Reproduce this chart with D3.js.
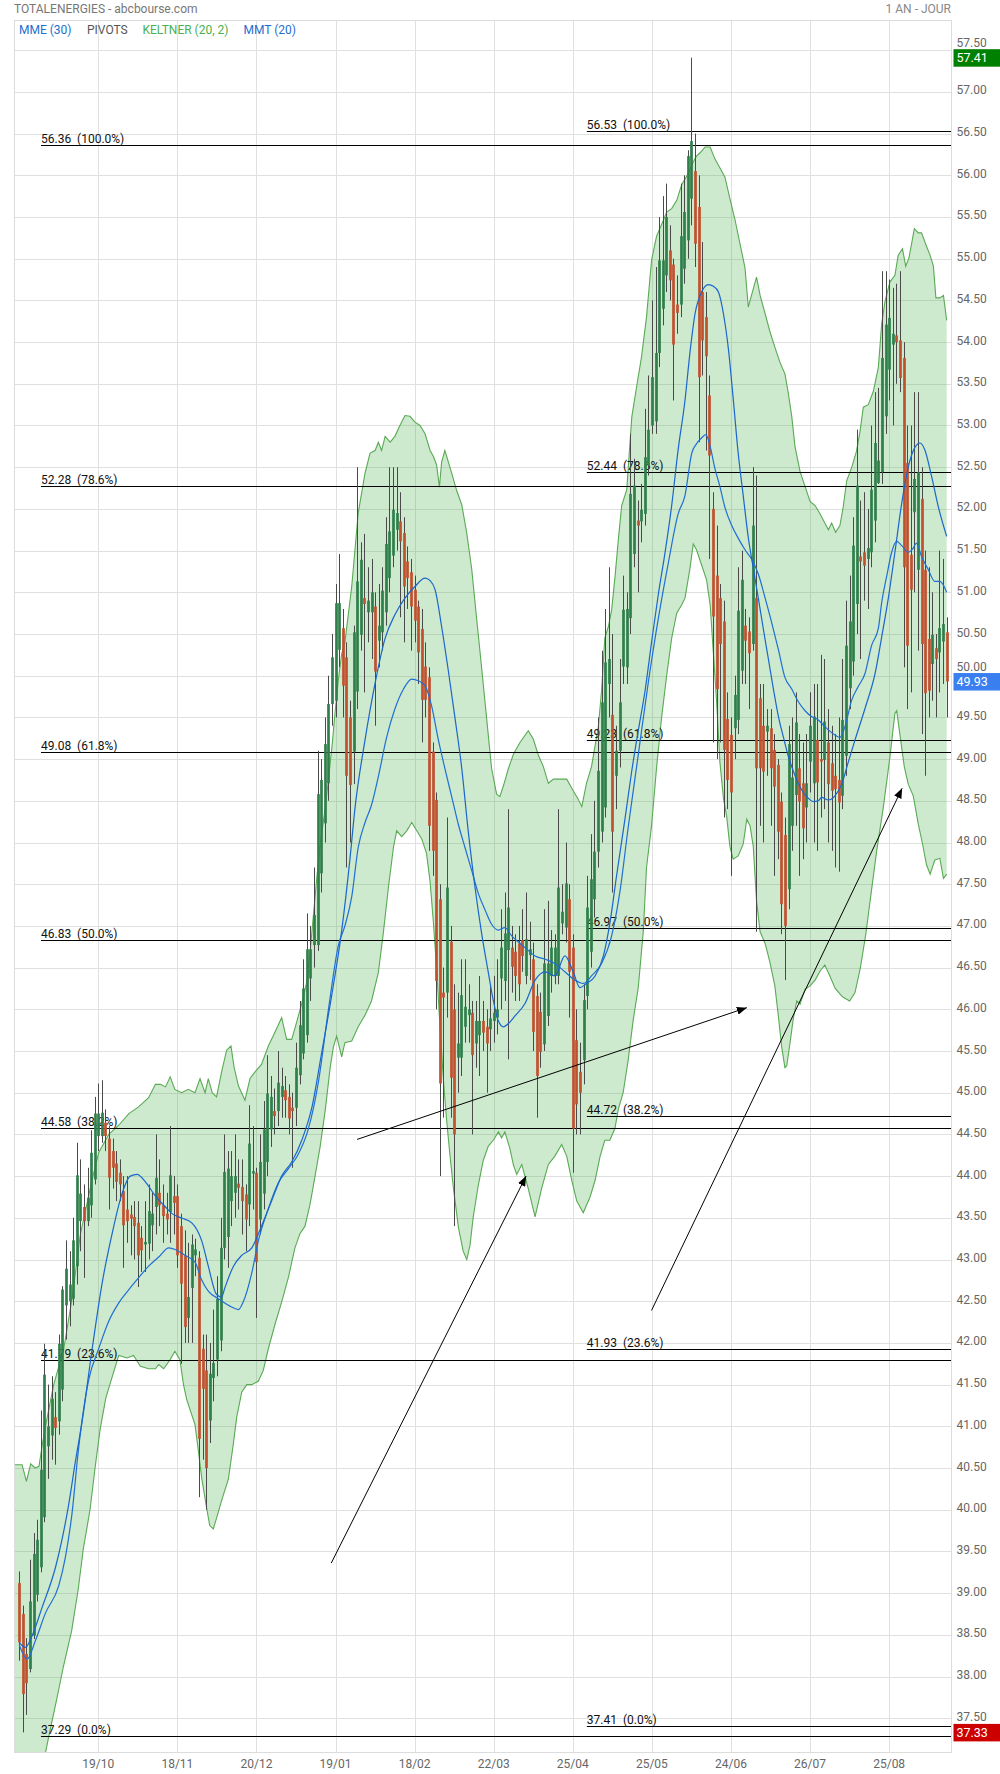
<!DOCTYPE html>
<html><head><meta charset="utf-8">
<script src="https://cdn.jsdelivr.net/npm/d3@7/dist/d3.min.js"></script>
<style>
html,body{margin:0;padding:0;background:#fff;}
svg text{font-family:Roboto,"Noto Sans",Arial,sans-serif;}
</style></head>
<body>
<svg id="chart" width="1000" height="1774"></svg>
<script>
// ---------------- DATA ----------------
const xTickIndex = [22,44,66,88,110,132,154,176,198,220,242];
const xTickLabels = ["19/10","18/11","20/12","19/01","18/02","22/03","25/04","25/05","24/06","26/07","25/08"];
const yTickValues = [37.5,38,38.5,39,39.5,40,40.5,41,41.5,42,42.5,43,43.5,44,44.5,45,45.5,46,46.5,47,47.5,48,48.5,49,49.5,50,50.5,51,51.5,52,52.5,53,53.5,54,54.5,55,55.5,56,56.5,57,57.5];

const open = [
39.12,38.75,38.27,38.09,38.49,38.98,39.31,39.91,40.76,40.89,
41.11,41.06,41.44,42.45,42.50,42.53,42.92,43.46,43.63,43.46,
43.65,43.96,44.48,44.48,44.64,44.45,44.30,44.15,44.04,43.82,
43.60,43.54,43.51,43.44,43.26,43.18,43.19,43.41,43.63,43.80,
43.65,43.55,43.57,43.76,43.76,43.40,43.05,42.30,42.66,43.05,
43.02,41.93,41.67,41.07,41.58,41.80,42.03,43.14,43.27,43.70,
43.80,43.91,43.87,43.78,43.66,44.03,44.04,43.48,43.79,44.17,
44.56,44.78,44.78,44.95,45.03,44.95,44.82,44.82,45.21,45.47,
45.69,46.37,46.77,46.77,47.63,48.23,48.71,49.66,49.70,50.31,
50.57,50.22,49.50,49.09,49.81,50.49,50.93,50.76,50.76,50.83,
50.42,50.52,50.76,51.17,51.44,51.75,51.85,51.71,51.37,51.24,
51.03,50.83,50.56,50.11,49.98,49.09,48.51,47.32,46.20,46.20,
46.81,46.00,45.42,45.42,45.79,45.93,45.96,45.59,45.69,45.86,
45.79,45.76,45.86,45.90,46.37,46.34,46.71,46.74,46.69,46.79,
46.83,46.40,46.65,46.60,46.16,45.97,45.58,45.92,46.40,46.40,
46.40,47.03,46.98,47.32,46.74,45.63,45.25,45.39,46.16,46.69,
47.32,47.89,48.13,48.42,49.90,49.53,48.80,49.10,50.11,50.10,
50.69,51.46,51.86,51.85,51.94,52.52,53.00,53.05,53.87,54.40,
54.80,55.10,54.93,54.45,54.45,54.88,55.22,55.72,56.05,55.62,
54.60,54.30,53.36,52.00,51.20,50.93,50.65,49.48,49.29,49.37,
49.47,50.06,50.60,50.53,50.38,50.93,49.73,49.40,49.33,49.37,
49.11,48.93,48.49,48.09,47.44,48.20,48.57,48.89,48.71,48.42,
48.97,48.71,49.23,49.00,48.99,49.20,48.95,48.80,48.75,48.56,
49.04,49.85,50.17,50.86,51.43,51.48,51.40,51.48,51.86,52.31,
52.44,53.11,53.67,53.97,54.08,54.02,53.81,52.55,51.45,51.96,
51.27,52.12,51.27,50.44,50.14,50.33,50.28,50.41,50.52];

const high = [
39.26,38.85,38.46,39.40,39.72,39.88,41.19,41.99,41.50,41.60,
41.41,42.10,42.68,43.23,43.10,43.50,44.40,44.20,43.90,44.10,
44.55,44.95,45.11,45.15,44.80,44.60,44.45,44.30,44.20,44.00,
44.00,43.65,43.70,43.70,43.40,43.70,43.90,43.80,44.50,44.20,
43.90,43.80,44.60,44.00,43.90,43.55,43.35,43.20,43.30,43.25,
43.10,42.10,42.10,42.00,42.40,42.80,43.50,44.50,44.30,44.30,
44.50,44.20,44.20,43.90,44.85,44.60,44.10,44.50,44.90,45.45,
45.20,45.05,45.50,45.30,45.20,45.10,45.00,45.60,46.10,46.60,
47.15,47.00,47.70,49.10,49.00,49.50,50.00,50.50,51.10,51.46,
50.80,50.40,49.70,50.60,52.50,51.60,51.70,51.30,51.40,51.00,
51.10,51.30,51.90,52.50,52.50,52.50,52.20,51.90,51.55,51.40,
51.20,50.90,50.80,50.40,50.10,49.20,48.60,47.50,46.50,48.30,
47.00,46.30,46.20,46.60,46.60,46.30,46.10,46.10,46.40,46.10,
46.00,46.30,46.40,46.60,47.20,47.40,48.40,47.00,46.90,47.00,
47.20,47.40,47.05,46.80,46.30,46.20,47.20,47.30,46.95,46.90,
48.40,47.50,48.00,47.50,46.90,46.00,45.60,46.30,47.60,48.10,
48.50,49.50,50.30,50.80,51.30,50.50,49.40,50.20,51.20,51.00,
52.90,52.60,52.10,52.30,53.20,53.60,54.50,54.90,55.50,55.75,
55.90,55.40,55.00,54.80,55.90,56.00,56.30,57.41,56.50,56.00,
55.20,54.60,53.60,52.20,51.80,51.10,50.90,49.80,49.50,50.00,
51.30,51.50,50.80,50.70,52.50,52.40,49.90,49.90,49.60,49.60,
49.30,49.00,48.60,48.30,49.40,49.50,49.80,49.30,49.20,49.30,
49.80,49.90,49.90,50.25,50.20,49.60,49.40,49.30,49.50,50.20,
50.90,51.20,51.90,52.95,52.10,52.20,52.00,53.00,53.40,53.45,
54.85,54.85,54.75,54.65,54.70,54.85,54.00,53.00,53.00,53.40,
53.40,52.50,51.50,51.30,51.00,50.50,51.50,51.40,50.70];

const low = [
38.19,37.33,37.54,38.05,38.45,38.90,39.25,39.85,40.37,40.60,
40.54,40.90,41.30,42.04,42.20,42.45,42.70,43.10,42.78,43.40,
43.50,43.90,44.30,44.40,44.30,43.60,43.85,43.70,43.70,42.90,
43.20,43.05,43.00,42.67,42.85,42.85,43.00,43.10,43.30,43.40,
43.20,43.30,43.20,43.30,42.90,41.75,42.00,42.00,42.00,42.80,
40.15,40.60,40.00,40.80,41.30,41.60,41.90,43.00,42.90,43.40,
43.50,43.60,43.30,43.10,43.40,43.60,42.30,43.30,43.60,44.00,
44.35,44.50,44.60,44.70,44.70,44.50,44.10,44.60,45.10,45.40,
45.60,46.10,46.50,46.70,47.40,48.00,48.50,49.40,49.50,50.10,
49.50,47.70,48.00,48.70,49.60,50.30,49.80,50.40,50.20,49.40,
50.10,50.30,50.60,51.00,51.30,51.50,50.70,50.40,50.80,50.30,
50.40,49.90,49.20,49.50,47.90,47.60,46.00,44.00,44.70,45.90,
44.70,43.40,45.00,45.20,45.60,45.60,44.50,45.30,45.20,45.50,
45.00,45.50,45.60,45.70,46.00,46.10,45.40,46.20,46.10,46.10,
46.45,46.30,46.35,45.50,44.70,45.30,45.50,45.80,46.20,46.30,
46.30,46.90,46.80,45.90,44.04,44.50,44.50,45.10,46.00,46.50,
47.10,47.70,48.00,48.30,49.50,47.40,48.40,48.90,49.90,49.90,
50.50,51.30,51.00,51.60,51.80,52.40,52.90,52.90,53.70,54.20,
54.60,54.50,53.30,54.10,54.30,54.70,55.00,55.40,54.90,52.80,
53.60,52.70,51.40,49.20,49.00,49.20,48.30,48.40,47.60,49.00,
49.30,49.90,49.90,49.60,50.30,46.93,48.20,48.00,48.80,48.20,
47.60,47.80,46.90,46.35,47.20,47.90,48.20,47.60,47.80,48.00,
48.60,48.00,47.90,48.30,48.40,48.00,47.90,47.70,47.65,48.40,
48.80,49.60,50.00,50.50,50.20,50.90,50.80,51.30,51.60,52.30,
52.30,52.90,53.30,53.00,53.50,53.40,50.10,49.60,49.80,51.00,
50.30,49.30,48.80,49.50,49.70,49.50,49.80,49.90,49.50];

const close = [
38.41,37.79,37.92,38.90,39.47,39.64,40.48,41.62,41.00,41.33,
40.98,41.99,42.64,42.89,42.70,43.23,44.01,43.79,43.46,43.74,
44.28,44.75,44.75,44.76,44.48,43.98,44.10,43.93,43.90,43.41,
43.46,43.49,43.40,43.05,43.11,43.21,43.58,43.55,43.98,43.65,
43.52,43.48,44.01,43.68,43.05,42.71,42.19,42.55,43.18,43.12,
40.85,41.45,40.50,41.63,41.76,42.53,43.14,44.05,44.09,44.00,
44.00,43.86,43.70,43.48,44.39,44.06,42.97,44.17,44.56,44.99,
44.95,44.72,45.12,45.08,44.91,44.69,44.78,45.30,45.81,46.25,
46.72,46.72,47.13,48.58,48.75,49.18,49.66,50.22,50.87,50.87,
49.88,48.80,48.69,50.52,51.13,51.39,50.86,50.90,51.00,50.05,
50.60,51.02,51.58,51.73,51.99,51.95,51.61,51.07,51.17,50.83,
50.66,50.28,49.71,49.71,48.20,47.90,46.34,45.11,46.14,47.46,
45.18,44.50,45.59,46.17,46.03,46.00,45.45,45.86,45.86,45.72,
45.59,45.89,45.96,46.00,46.74,46.91,47.22,46.51,46.40,46.30,
46.64,46.84,46.72,45.73,45.20,45.49,46.55,46.55,46.74,46.74,
47.46,47.17,47.51,46.45,44.57,44.86,45.00,46.11,47.22,47.56,
47.89,48.86,49.68,50.16,50.20,48.13,49.10,49.68,50.79,50.80,
52.18,52.28,51.80,51.99,52.62,52.95,53.58,53.87,54.98,54.98,
55.50,54.74,53.97,54.35,55.27,55.56,56.23,56.41,55.18,53.58,
54.02,53.83,52.64,50.71,49.84,50.38,49.11,48.75,48.60,49.77,
50.78,51.15,50.42,50.27,51.80,48.89,48.89,48.85,49.40,48.89,
48.67,48.13,47.26,47.00,49.18,48.78,49.44,48.49,48.17,48.71,
49.40,49.51,48.72,48.97,49.45,48.70,48.62,48.64,48.48,49.47,
50.36,50.65,51.56,52.28,51.37,51.32,51.53,52.23,52.79,52.58,
53.81,54.21,54.29,54.10,54.00,53.57,51.30,50.36,51.03,52.36,
52.44,50.38,49.79,49.82,50.49,50.20,50.57,50.62,49.93];

// Keltner (20,2) channel [day index, value]
const keltnerUpper = [[-1.2,40.54],[0.8,40.54],[2.0,40.34],[3.2,40.55],[4.4,40.50],[5.5,40.52],[6.5,40.8],[7.3,41.0],[9.6,41.5],[12.4,41.93],[14.7,42.53],[17,43.3],[20.3,43.96],[22.1,44.28],[24.9,44.5],[27.7,44.61],[30.5,44.75],[33.2,44.83],[36,44.94],[37.9,45.1],[39.3,45.1],[40.7,45.07],[42,45.19],[43.3,45.04],[45.2,45.0],[47,45.04],[48.9,45.0],[50.3,45.17],[51.7,45.0],[52.6,45.17],[53.7,45.0],[54.9,44.95],[56.3,45.25],[57.7,45.51],[58.9,45.56],[59.8,45.3],[61,45.08],[62.8,44.91],[64.2,45.17],[65.6,45.25],[67.4,45.34],[69.3,45.56],[71.2,45.73],[73,45.9],[74.4,45.64],[75.8,45.64],[77.2,45.85],[78.6,46.07],[80,46.33],[80.9,46.68],[81.8,47.11],[82.7,47.54],[83.7,47.97],[85.1,48.41],[86,48.75],[87.1,49.19],[87.8,49.53],[88.8,49.96],[89.7,50.26],[90.6,50.4],[92.5,51.07],[94.3,51.95],[96.2,52.43],[97.6,52.67],[99,52.7],[99.9,52.8],[100.8,52.7],[101.8,52.87],[103.2,52.8],[104.5,52.87],[105.9,53.0],[107.3,53.12],[108.7,53.11],[110.1,53.04],[111.5,53.0],[112.9,52.9],[114.3,52.7],[115.2,52.63],[116.1,52.53],[116.9,52.26],[117.5,52.56],[118.4,52.7],[119.4,52.56],[120.3,52.43],[121.7,52.22],[123.1,52.05],[124.5,51.71],[125.9,51.27],[127.3,50.66],[128.6,50.11],[130,49.5],[131.4,48.89],[132.8,48.58],[133.7,48.55],[134.7,48.68],[136.1,48.89],[137.5,49.06],[139.3,49.2],[141.6,49.34],[143,49.24],[144.4,49.05],[145.8,48.91],[147.2,48.71],[148.6,48.76],[150.4,48.76],[152.3,48.76],[154.1,48.62],[155.5,48.52],[156.5,48.43],[157.8,48.71],[159.2,48.91],[161.1,49.39],[162,49.82],[162.9,50.45],[163.9,50.59],[164.8,50.79],[165.7,51.17],[166.7,51.65],[167.6,52.04],[169,52.23],[170.4,53.1],[171.8,53.48],[173.1,53.82],[174.5,54.3],[175.9,54.98],[177.3,55.27],[178.7,55.41],[180.1,55.56],[181.5,55.6],[182.9,55.7],[184.3,55.89],[185.7,55.99],[187.5,56.16],[188.4,56.23],[189.4,56.27],[190.8,56.34],[192.2,56.34],[193.5,56.2],[194.9,56.09],[196.3,55.98],[197.7,55.72],[199.1,55.47],[200.5,55.18],[201.9,54.89],[202.8,54.42],[203.7,54.56],[205.1,54.78],[206.1,54.56],[207.5,54.34],[208.8,54.13],[210.2,53.94],[211.6,53.76],[213,53.62],[213.9,53.4],[214.9,53.11],[215.8,52.75],[217.2,52.45],[218.6,52.27],[220,52.09],[221.4,52.04],[222.8,51.94],[224.1,51.83],[225.1,51.75],[226,51.83],[227.1,51.72],[228.3,51.8],[229.2,52.02],[230.2,52.34],[231.6,52.5],[232.9,52.69],[233.9,52.93],[234.8,53.22],[236.2,53.25],[237.6,53.41],[239,53.7],[239.9,54.21],[240.8,54.48],[242.2,54.72],[243.6,54.8],[244.5,55.04],[245.7,55.12],[246.6,54.91],[247.5,55.01],[248.2,55.17],[249,55.36],[250.1,55.31],[251,55.31],[252.2,55.17],[253.4,55.04],[254.3,54.91],[255,54.53],[256.1,54.53],[257.1,54.56],[258,54.26]];

const keltnerLower = [[-1.2,35.8],[3,36.2],[6.9,37.0],[8.6,37.36],[10.4,37.72],[12.3,38.12],[14.6,38.55],[16.4,39.04],[17.8,39.52],[19.7,40.0],[21.1,40.5],[22.5,40.96],[24.1,41.34],[26.2,41.64],[27.7,41.85],[30,41.82],[31.8,41.85],[33.7,41.72],[36,41.69],[37.9,41.69],[38.8,41.74],[40.2,41.69],[42,41.8],[43.3,41.9],[44.7,41.8],[45.7,41.5],[46.6,41.32],[48.9,41.02],[49.8,40.72],[50.8,40.37],[52.1,40.03],[53,39.81],[54,39.77],[54.9,39.9],[56.3,40.11],[58.2,40.37],[59.6,40.8],[60.5,41.11],[61.9,41.41],[63.3,41.5],[64.7,41.5],[66.5,41.54],[67.9,41.67],[69.3,41.93],[71.2,42.23],[73,42.49],[74.9,42.79],[76.7,43.14],[78.1,43.31],[79.5,43.4],[80.9,43.66],[82.3,44.0],[83.7,44.35],[85.1,44.78],[86.5,45.3],[87.4,45.55],[88.3,45.68],[89.7,45.43],[90.6,45.6],[92.5,45.62],[94.3,45.79],[96.2,45.93],[98,46.1],[99.9,46.44],[101.3,46.92],[102.7,47.46],[104.1,47.94],[105,48.14],[106.4,48.07],[107.8,48.14],[109.2,48.24],[110.6,48.14],[112,48.04],[113.3,47.87],[114.3,47.53],[115.2,47.05],[116.1,46.5],[117,45.83],[118,45.15],[118.9,44.67],[119.8,44.26],[120.8,43.85],[122.2,43.38],[123.5,43.1],[124.5,43.0],[125.4,43.17],[126.3,43.51],[127.7,43.89],[129.1,44.19],[130.5,44.36],[131.9,44.43],[133.3,44.53],[134.2,44.46],[135.1,44.53],[136.5,44.33],[137.5,44.13],[138.4,44.02],[139.8,44.14],[141.6,43.85],[143.5,43.51],[145.3,43.85],[147.2,44.14],[149,44.24],[150.9,44.38],[152.3,44.24],[153.7,43.95],[155.1,43.7],[156.9,43.56],[158.8,43.75],[160.2,43.95],[161.6,44.24],[162.9,44.43],[164.3,44.43],[165.7,44.57],[166.7,44.81],[168,45.0],[169.4,45.39],[170.8,45.87],[172.2,46.26],[173.6,46.93],[174.5,47.7],[175.9,48.2],[177.3,48.9],[178.7,49.5],[180.1,50.0],[181.5,50.45],[182.9,50.75],[184.3,50.85],[185.2,50.93],[186.6,51.29],[187.5,51.58],[188.4,51.51],[189.8,51.33],[191.2,51.15],[192.2,50.85],[193.1,50.27],[194,49.69],[194.9,48.97],[195.9,48.53],[196.8,48.31],[197.7,47.95],[198.6,47.8],[200,47.84],[201.4,47.98],[202.4,48.28],[203.3,48.2],[204.2,47.95],[205.1,47.3],[206.1,46.93],[207.5,46.79],[208.8,46.57],[210.2,46.28],[211.2,45.91],[212.1,45.55],[213,45.3],[213.5,45.32],[214.4,45.59],[215.3,45.88],[216.3,46.1],[217.2,46.06],[218.6,46.24],[220,46.28],[221.4,46.35],[222.8,46.46],[224.1,46.53],[225.5,46.4],[227,46.25],[229,46.15],[231,46.1],[232.5,46.2],[234,46.5],[235.5,46.9],[236.7,47.3],[238.5,47.89],[240.4,48.43],[242.2,49.02],[243.6,49.55],[244.1,49.58],[245,49.29],[246.2,48.91],[247.3,48.7],[248.7,48.56],[250.1,48.22],[251.2,48.0],[252.4,47.73],[253.4,47.62],[254.7,47.79],[256.1,47.81],[257.1,47.57],[258,47.62]];

// MMT (20)
const mmt20 = [[0,38.41],[1.7,38.35],[3.6,38.49],[6.3,38.82],[10.1,39.31],[11.9,39.64],[13.8,40.07],[15.6,40.57],[17.5,41.06],[20.3,41.93],[23,42.7],[25.8,43.3],[28.6,43.79],[30.9,44.0],[32.8,44.02],[35.1,43.93],[37.9,43.76],[40.7,43.63],[42.5,43.55],[45,43.5],[48,43.44],[50.8,43.22],[52.6,42.92],[54.9,42.58],[56.3,42.55],[57.2,42.66],[59.6,42.92],[61.9,43.05],[64.7,43.14],[67.4,43.4],[70.2,43.7],[73,44.0],[75.8,44.17],[78.6,44.43],[81.4,44.82],[84.1,45.47],[86.9,46.16],[89.7,46.94],[92,47.8],[93.4,48.41],[96.2,49.23],[99,49.91],[101.8,50.45],[104.5,50.73],[107.3,50.93],[110.1,51.07],[112.9,51.17],[114.3,51.14],[115.7,51.03],[117.5,50.59],[119.4,50.05],[121.2,49.5],[123.1,48.89],[124.9,48.14],[126.8,47.46],[128.6,46.92],[130.5,46.44],[131.9,46.1],[133.3,45.86],[134.7,45.79],[136.1,45.83],[137.9,45.92],[140.7,46.07],[143.5,46.35],[146.3,46.45],[149,46.4],[151.8,46.64],[154.1,46.45],[156,46.26],[157.8,46.31],[160.2,46.4],[162.5,46.64],[164.3,47.03],[166.2,47.61],[168.5,48.28],[170.4,48.86],[172.2,49.34],[174.1,49.82],[175.9,50.4],[177.8,50.98],[179.6,51.46],[181.5,52.04],[183.3,52.71],[185.2,53.3],[186.6,53.88],[188,54.34],[189.8,54.6],[191.7,54.69],[193.1,54.67],[194.5,54.6],[195.9,54.34],[197.3,53.91],[198.6,53.33],[200,52.67],[201.4,52.16],[202.8,51.66],[204.2,51.29],[205.6,50.93],[207,50.56],[208.4,50.2],[209.8,49.84],[211.2,49.51],[212.6,49.26],[213.9,49.04],[215.3,48.86],[216.7,48.71],[218.1,48.6],[219.5,48.53],[220.9,48.49],[222.3,48.5],[223.2,48.54],[225.1,48.51],[226.9,48.56],[228.8,48.7],[230.6,48.96],[232.5,49.23],[235.3,49.61],[238.1,50.03],[239.9,50.46],[241.8,50.94],[243.6,51.48],[245.5,52.07],[247.3,52.5],[249.2,52.74],[250.6,52.79],[251.9,52.71],[253.8,52.39],[255.7,52.02],[258,51.67]];

// MME (30)
const mme30 = [[0,38.38],[2.2,38.21],[4.5,38.43],[7.3,38.76],[11,39.09],[12.8,39.42],[14.7,39.96],[16.5,40.73],[19.3,41.55],[22.1,41.93],[24.9,42.26],[27.7,42.48],[30.5,42.64],[33.2,42.78],[36,42.92],[38.8,43.03],[41.6,43.14],[43.4,43.12],[46.1,43.05],[48.9,42.97],[50.8,42.75],[52.6,42.62],[55.4,42.53],[59.1,42.43],[61,42.4],[62.3,42.49],[64.7,42.84],[66.5,43.22],[69.3,43.61],[72.1,43.92],[74.9,44.09],[77.6,44.26],[80.4,44.56],[83.2,45.12],[86,45.99],[88.8,46.77],[90.6,47.0],[92.5,47.35],[94.3,47.94],[96.2,48.24],[98,48.45],[99.9,48.79],[102.2,49.26],[104.5,49.6],[106.9,49.84],[109.2,49.96],[111,49.94],[112.9,49.88],[114.7,49.64],[116.6,49.23],[118.4,48.89],[120.3,48.55],[122.2,48.21],[124,47.94],[125.9,47.66],[127.7,47.39],[129.6,47.19],[131.4,47.02],[133.3,46.95],[135.1,46.98],[137,46.88],[138.8,46.81],[140.7,46.74],[143.5,46.64],[146.3,46.6],[149,46.55],[151.8,46.45],[154.6,46.35],[156.9,46.31],[159.2,46.4],[162,46.55],[164.8,46.88],[167.1,47.41],[169.4,48.18],[172.2,49.05],[175,49.92],[177.8,50.69],[180.6,51.36],[183.3,51.94],[185.2,52.16],[187.1,52.67],[188.4,52.78],[189.8,52.85],[191,52.89],[192.2,52.75],[193.5,52.49],[194.9,52.27],[196.3,52.02],[198.2,51.8],[200,51.65],[201.9,51.51],[203.7,51.4],[205.6,51.22],[207.5,50.93],[209.3,50.64],[211.2,50.31],[213,49.98],[214.9,49.84],[216.7,49.69],[218.6,49.58],[220.4,49.51],[222.3,49.47],[224.1,49.39],[226.9,49.29],[228.3,49.26],[229.7,49.39],[231.6,49.71],[233.4,49.87],[235.3,50.03],[237.1,50.36],[239,50.57],[239.9,50.87],[241.3,51.19],[242.7,51.48],[244.1,51.61],[245.5,51.56],[247.3,51.48],[248.7,51.53],[249.6,51.59],[251,51.43],[252.9,51.27],[254.7,51.13],[256.1,51.13],[258,51.0]];

// Pivots (Fibonacci retracements)
const fibPercents = ["100.0%","78.6%","61.8%","50.0%","38.2%","23.6%","0.0%"];
const fibLeftValues = [56.36,52.28,49.08,46.83,44.58,41.79,37.29];
const fibRightValues = [56.53,52.44,49.23,46.97,44.72,41.93,37.41];
const fibLeftStart = 6.06;
const fibRightStart = 157.9;

// Trend arrows [startIndex, startValue, endIndex, endValue]
const arrows = [[94.0,44.44,202.4,46.02],[86.8,39.36,141.0,44.0],[175.9,42.39,245.6,48.65]];

const badges = [[57.41,"#008000"],[49.93,"#3a7ff0"],[37.33,"#cc0000"]]; // year high, last, year low

// ---------------- DRAW ----------------
const svg = d3.select("#chart");
const L = 15, R = 951, T = 21, B = 1752;
const x = d3.scaleLinear().domain([-1.17, 259.2]).range([L, R]);
const y = d3.scaleLinear().domain([37.095, 57.85]).range([B, T]);

svg.append("rect").attr("width",1000).attr("height",1774).attr("fill","#fff");

const defs = svg.append("defs");
defs.append("clipPath").attr("id","plotclip").append("rect")
  .attr("x",L).attr("y",T).attr("width",R-L).attr("height",B-T);
defs.append("marker").attr("id","arrowhead").attr("markerUnits","userSpaceOnUse")
  .attr("markerWidth",11).attr("markerHeight",8).attr("refX",10).attr("refY",4)
  .attr("orient","auto").append("path").attr("d","M0,0 L10,4 L0,8 Z").attr("fill","#000");

// grid
const grid = svg.append("g");
grid.selectAll("line.h").data(yTickValues).join("line")
  .attr("x1",L).attr("x2",R).attr("y1",d=>Math.round(y(d))+0.5).attr("y2",d=>Math.round(y(d))+0.5)
  .attr("stroke","#e0e0e0").attr("stroke-width",1);
grid.selectAll("line.v").data(xTickIndex).join("line")
  .attr("y1",T).attr("y2",B).attr("x1",d=>Math.round(x(d))+0.5).attr("x2",d=>Math.round(x(d))+0.5)
  .attr("stroke","#e0e0e0").attr("stroke-width",1);
svg.append("rect").attr("x",L-0.5).attr("y",T-0.5).attr("width",R-L+1).attr("height",B-T+1)
  .attr("fill","none").attr("stroke","#dcdcdc");

const plot = svg.append("g").attr("clip-path","url(#plotclip)");

// Keltner band
const lineGen = d3.line().x(d=>x(d[0])).y(d=>y(d[1])).curve(d3.curveLinear);
const poly = keltnerUpper.concat(keltnerLower.slice().reverse());
plot.append("path").attr("d", lineGen(poly)+"Z").attr("fill","rgba(76,175,80,0.28)").attr("stroke","none");
plot.append("path").attr("d", lineGen(keltnerUpper)).attr("fill","none").attr("stroke","#5aaa55").attr("stroke-width",1.1);
plot.append("path").attr("d", lineGen(keltnerLower)).attr("fill","none").attr("stroke","#5aaa55").attr("stroke-width",1.1);

// Pivot lines
function fibSet(values, start){
  const g = plot.append("g");
  values.forEach((v,k)=>{
    const yy = Math.round(y(v))+0.5;
    g.append("line").attr("x1",x(start)).attr("x2",R).attr("y1",yy).attr("y2",yy)
      .attr("stroke","#000").attr("stroke-width",1);
    g.append("text").attr("x",x(start)).attr("y",yy-2.5).attr("font-size",12).attr("fill","#111")
      .style("white-space","pre").text(v.toFixed(2)+"  ("+fibPercents[k]+")");
  });
}
fibSet(fibLeftValues, fibLeftStart);
fibSet(fibRightValues, fibRightStart);

// candles
const idx = d3.range(close.length);
const bw = 2.7;
const cg = plot.append("g");
cg.selectAll("line").data(idx).join("line")
  .attr("x1",i=>Math.round(x(i))+0.5).attr("x2",i=>Math.round(x(i))+0.5)
  .attr("y1",i=>y(high[i])).attr("y2",i=>y(low[i]))
  .attr("stroke","#4a4a4a").attr("stroke-width",1);
cg.selectAll("rect").data(idx).join("rect")
  .attr("x",i=>Math.round(x(i))+0.5-bw/2).attr("width",bw)
  .attr("y",i=>y(Math.max(open[i],close[i])))
  .attr("height",i=>Math.max(1,Math.abs(y(open[i])-y(close[i]))))
  .attr("fill",i=>close[i]>=open[i]?"#2f7f4a":"#c0502e");

// moving averages
const smooth = d3.line().x(d=>x(d[0])).y(d=>y(d[1])).curve(d3.curveMonotoneX);
plot.append("path").attr("d",smooth(mme30)).attr("fill","none").attr("stroke","#1f6fd6").attr("stroke-width",1.2);
plot.append("path").attr("d",smooth(mmt20)).attr("fill","none").attr("stroke","#1a66cc").attr("stroke-width",1.2);

// arrows
svg.selectAll("line.arrow").data(arrows).join("line").attr("class","arrow")
  .attr("x1",d=>x(d[0])).attr("y1",d=>y(d[1])).attr("x2",d=>x(d[2])).attr("y2",d=>y(d[3]))
  .attr("stroke","#000").attr("stroke-width",1).attr("marker-end","url(#arrowhead)");

// header
svg.append("text").attr("x",14).attr("y",12.5).attr("font-size",12).attr("fill","#777").text("TOTALENERGIES - abcbourse.com");
svg.append("text").attr("x",951).attr("y",12.5).attr("font-size",12).attr("fill","#888").attr("text-anchor","end").text("1 AN - JOUR");

// legend
const legend = [["MME (30)",19,"#1e6fd0"],["PIVOTS",87,"#555"],["KELTNER (20, 2)",142.5,"#4caf50"],["MMT (20)",243.5,"#1e6fd0"]];
svg.selectAll("text.leg").data(legend).join("text").attr("class","leg")
  .attr("x",d=>d[1]).attr("y",33.5).attr("font-size",12).attr("fill",d=>d[2]).text(d=>d[0]);

// y axis labels (lifted just above a value badge when they would collide)
function labelBaseline(v){
  let base = y(v) + 2.5;
  badges.forEach(b=>{
    const by = y(b[0]);
    if (by >= y(v) && by - y(v) < 14) base = Math.min(base, by - 10.5);
  });
  return base;
}
svg.selectAll("text.yl").data(yTickValues).join("text").attr("class","yl")
  .attr("x",956.5).attr("y",d=>labelBaseline(d)).attr("font-size",12).attr("fill","#666").text(d=>d.toFixed(2));

// x axis labels
svg.selectAll("text.xl").data(xTickIndex).join("text").attr("class","xl")
  .attr("x",d=>x(d)).attr("y",1768).attr("font-size",12).attr("fill","#666").attr("text-anchor","middle")
  .text((d,k)=>xTickLabels[k]);

// value badges
badges.forEach(b=>{
  const yy = y(b[0]);
  svg.append("rect").attr("x",953.5).attr("y",yy-8.5).attr("width",46.5).attr("height",17.5).attr("fill",b[1]);
  svg.append("text").attr("x",956.5).attr("y",yy+4.5).attr("font-size",12.5).attr("fill","#fff").text(b[0].toFixed(2));
});
</script>
</body></html>
